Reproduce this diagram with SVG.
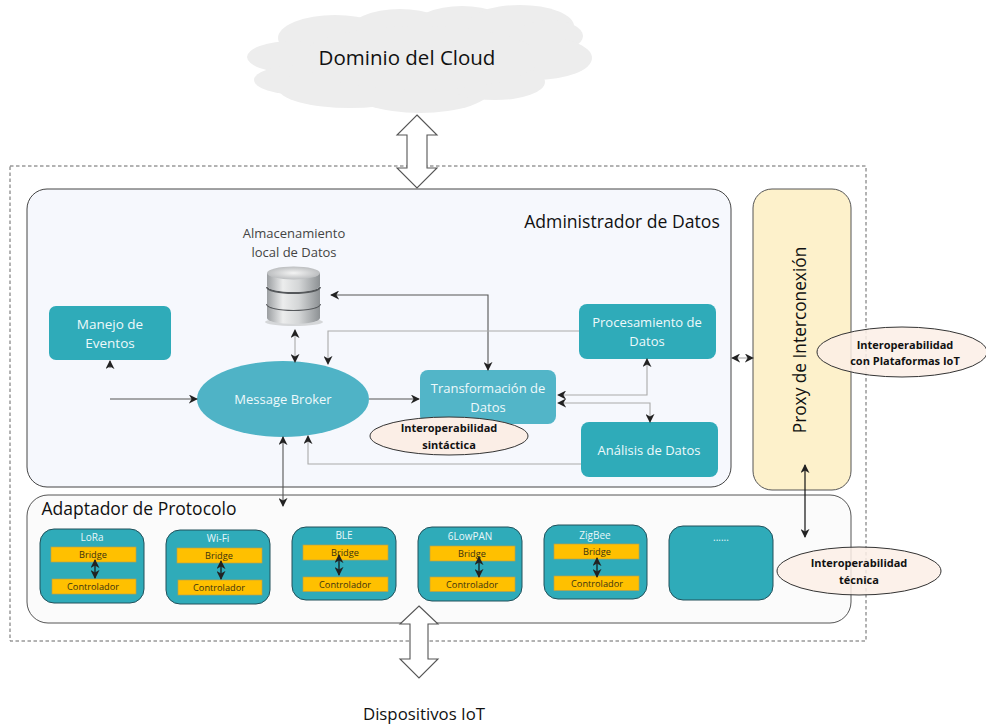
<svg xmlns="http://www.w3.org/2000/svg" width="986" height="724" viewBox="0 0 986 724">
<style>
text{font-family:"Open Sans","Noto Sans","Liberation Sans",sans-serif;text-anchor:middle}
.w{fill:#eef9fb;font-size:13px}
.mod{fill:#2fabb9;stroke:#22505a;stroke-width:1}
.lbl{fill:#e8f7f9;font-size:10px}
.br{fill:#ffc000;stroke:#b9a04a;stroke-width:.7}
.bt{fill:#3a3210;font-size:9.2px}
.ov{fill:#fbeee6;stroke:#333;stroke-width:1}
.ot{fill:#111;font-size:11px;font-weight:700}
.c{fill:none;stroke:#555;stroke-width:1.1}
.g{fill:none;stroke:#aaa;stroke-width:1.1}
.k{fill:none;stroke:#111;stroke-width:1.2}
.big{fill:#fff;stroke:#555;stroke-width:1.1}
.cl{fill:#ededed}
</style>
<defs>
<marker id="a" viewBox="0 0 10 10" refX="9" refY="5" markerWidth="9" markerHeight="9" markerUnits="userSpaceOnUse" orient="auto-start-reverse"><path d="M0 0L10 5L0 10L3 5Z" fill="#222"/></marker>
<linearGradient id="cy" x1="0" x2="1" y1="0" y2="0"><stop offset="0" stop-color="#9b9ea1"/><stop offset=".3" stop-color="#eceded"/><stop offset=".6" stop-color="#d4d6d7"/><stop offset="1" stop-color="#8d9194"/></linearGradient>
<radialGradient id="top"><stop offset="0" stop-color="#f4f4f4"/><stop offset="1" stop-color="#bcbec0"/></radialGradient>
</defs>

<g id="cloud" class="cl">
<ellipse cx="335" cy="38" rx="57" ry="23"/><ellipse cx="400" cy="32" rx="52" ry="23"/><ellipse cx="462" cy="28" rx="50" ry="22"/><ellipse cx="520" cy="26" rx="54" ry="21"/>
<ellipse cx="550" cy="36" rx="33" ry="16"/><ellipse cx="535" cy="58" rx="57" ry="22"/><ellipse cx="293" cy="57" rx="46" ry="16"/><ellipse cx="300" cy="80" rx="46" ry="15"/>
<ellipse cx="350" cy="88" rx="72" ry="20"/><ellipse cx="420" cy="88" rx="72" ry="25"/><ellipse cx="495" cy="82" rx="50" ry="18"/><ellipse cx="420" cy="58" rx="120" ry="32"/>
<text x="407" y="65" style="font-size:20.500px;fill:#111">Dominio del Cloud</text>
</g>

<rect id="frame" x="10" y="166" width="856" height="475" fill="none" stroke="#666" stroke-width="1" stroke-dasharray="3.5 2.5"/>

<g id="administrador">
<rect x="27" y="189" width="704" height="298" rx="20" fill="#f6f8fd" stroke="#444" stroke-width="1"/>
<text x="622" y="228" style="font-size:17.600px;fill:#111">Administrador de Datos</text>
</g>
<g id="adaptador">
<rect x="27" y="495" width="824" height="128" rx="21" fill="#fbfbfb" stroke="#555" stroke-width="1"/>
<text x="139" y="515" style="font-size:17.500px;fill:#111">Adaptador de Protocolo</text>
</g>
<g id="proxy">
<rect x="753" y="189" width="98" height="301" rx="19" fill="#fdf1cb" stroke="#555" stroke-width="1"/>
<text transform="translate(806 340) rotate(-90)" style="font-size:17.300px;fill:#111">Proxy de Interconexión</text>
</g>

<g id="almacenamiento">
<text x="294" y="238" style="font-size:13px;fill:#444">Almacenamiento</text>
<text x="294" y="257" style="font-size:13px;fill:#444">local de Datos</text>
<ellipse cx="294" cy="322" rx="29" ry="4" fill="#d5d7d9"/>
<path d="M267 306h53v12a26.500 6 0 0 1-53 0z" fill="url(#cy)"/>
<path d="M267 304a26.500 6 0 0 0 53 0" fill="none" stroke="#55585b" stroke-width="2"/>
<path d="M267 289h53v15a26.500 6 0 0 1-53 0z" fill="url(#cy)"/>
<path d="M267 287a26.500 6 0 0 0 53 0" fill="none" stroke="#55585b" stroke-width="2"/>
<path d="M267 273h53v13a26.500 6 0 0 1-53 0z" fill="url(#cy)"/>
<ellipse cx="293.500" cy="273" rx="26.500" ry="6.500" fill="url(#top)"/>
</g>

<g id="manejo"><rect x="49" y="306" width="122" height="54" rx="7" fill="#2fabb9"/><text class="w" style="font-size:13.500px" x="110" y="329">Manejo de</text><text class="w" style="font-size:13.500px" x="110" y="348">Eventos</text></g>
<g id="broker"><ellipse cx="283" cy="399" rx="86" ry="38" fill="#4fb3c6"/><text class="w" x="283" y="404">Message Broker</text></g>
<g id="transformacion"><rect x="420" y="370" width="136" height="54" rx="8" fill="#52b5c8"/><text class="w" x="488" y="393">Transformación de</text><text class="w" x="488" y="412">Datos</text></g>
<g id="procesamiento"><rect x="579" y="304" width="137" height="55" rx="8" fill="#2fabb9"/><text class="w" x="647" y="327">Procesamiento de</text><text class="w" x="647" y="346">Datos</text></g>
<g id="analisis"><rect x="581" y="422" width="137" height="55" rx="8" fill="#2fabb9"/><text class="w" x="649" y="455">Análisis de Datos</text></g>

<g id="lora"><rect class="mod" x="40" y="529" width="104" height="74" rx="14"/><text class="lbl" x="92" y="541">LoRa</text><rect class="br" x="51" y="547" width="85" height="15"/><text class="bt" x="93" y="558">Bridge</text><rect class="br" x="52" y="579" width="84" height="15"/><text class="bt" x="93" y="590">Controlador</text></g>
<g id="wifi"><rect class="mod" x="166" y="530" width="104" height="74" rx="14"/><text class="lbl" x="218" y="542">Wi-Fi</text><rect class="br" x="177" y="548" width="85" height="15"/><text class="bt" x="219" y="559">Bridge</text><rect class="br" x="178" y="580" width="84" height="15"/><text class="bt" x="219" y="591">Controlador</text></g>
<g id="ble"><rect class="mod" x="292" y="527" width="104" height="73" rx="14"/><text class="lbl" x="344" y="539">BLE</text><rect class="br" x="303" y="545" width="85" height="15"/><text class="bt" x="345" y="556">Bridge</text><rect class="br" x="303" y="577" width="85" height="14.500"/><text class="bt" x="345" y="588">Controlador</text></g>
<g id="lowpan"><rect class="mod" x="418" y="527" width="104" height="74" rx="14"/><text class="lbl" x="470" y="540">6LowPAN</text><rect class="br" x="430" y="546" width="85" height="15"/><text class="bt" x="472" y="557">Bridge</text><rect class="br" x="430" y="577" width="85" height="14.500"/><text class="bt" x="472" y="588">Controlador</text></g>
<g id="zigbee"><rect class="mod" x="544" y="525" width="103" height="74" rx="14"/><text class="lbl" x="595" y="539">ZigBee</text><rect class="br" x="554" y="544" width="85" height="15"/><text class="bt" x="597" y="555">Bridge</text><rect class="br" x="554" y="576" width="85" height="14.500"/><text class="bt" x="597" y="587">Controlador</text></g>
<g id="otros"><rect class="mod" x="669" y="526" width="104" height="74" rx="14"/><text class="lbl" x="721" y="541">......</text></g>

<g id="connectors">
<path class="c" d="M110 399H197" marker-end="url(#a)"/>
<path class="c" d="M110 368V361" marker-end="url(#a)"/>
<path class="g" d="M295 330V362" marker-start="url(#a)" marker-end="url(#a)"/>
<path class="c" d="M331 295H488V370" marker-start="url(#a)" marker-end="url(#a)"/>
<path class="g" d="M579 331H328V364" marker-end="url(#a)"/>
<path class="c" d="M369 399H419" marker-end="url(#a)"/>
<path class="g" d="M581 464H308V436" marker-end="url(#a)"/>
<path class="c" d="M283 437V506" marker-start="url(#a)" marker-end="url(#a)"/>
<path class="g" d="M558 395H647V359" marker-start="url(#a)" marker-end="url(#a)"/>
<path class="g" d="M558 403H650V422" marker-start="url(#a)" marker-end="url(#a)"/>
<path class="g" d="M732 358H753" marker-start="url(#a)" marker-end="url(#a)"/>
<path class="k" d="M805 465V537" marker-start="url(#a)" marker-end="url(#a)"/>
<path class="k" d="M95 560V578" marker-start="url(#a)" marker-end="url(#a)"/>
<path class="k" d="M221 561V579" marker-start="url(#a)" marker-end="url(#a)"/>
<path class="k" d="M339 555V575" marker-start="url(#a)" marker-end="url(#a)"/>
<path class="k" d="M479 557V577" marker-start="url(#a)" marker-end="url(#a)"/>
<path class="k" d="M597 558V577" marker-start="url(#a)" marker-end="url(#a)"/>
<path class="big" d="M417 115L437 135H427V168H437L417 188L397 168H407V135H397Z"/>
<path class="big" d="M419 606L438 624H428V659H438L419 678L400 659H410V624H400Z"/>
</g>

<g id="sintactica"><ellipse class="ov" cx="449" cy="436" rx="79" ry="19"/><text class="ot" x="449" y="432">Interoperabilidad</text><text class="ot" x="449" y="449">sintáctica</text></g>
<g id="tecnica"><ellipse class="ov" cx="859" cy="571" rx="82" ry="24" fill-opacity=".85"/><text class="ot" x="859" y="567">Interoperabilidad</text><text class="ot" x="859" y="584">técnica</text></g>
<g id="plataformas"><ellipse class="ov" cx="902" cy="352" rx="85" ry="25" fill-opacity=".85"/><text class="ot" x="905" y="349">Interoperabilidad</text><text class="ot" x="905" y="365">con Plataformas IoT</text></g>
<text id="dispositivos" x="424" y="720" style="font-size:16.800px;fill:#111">Dispositivos IoT</text>
</svg>
